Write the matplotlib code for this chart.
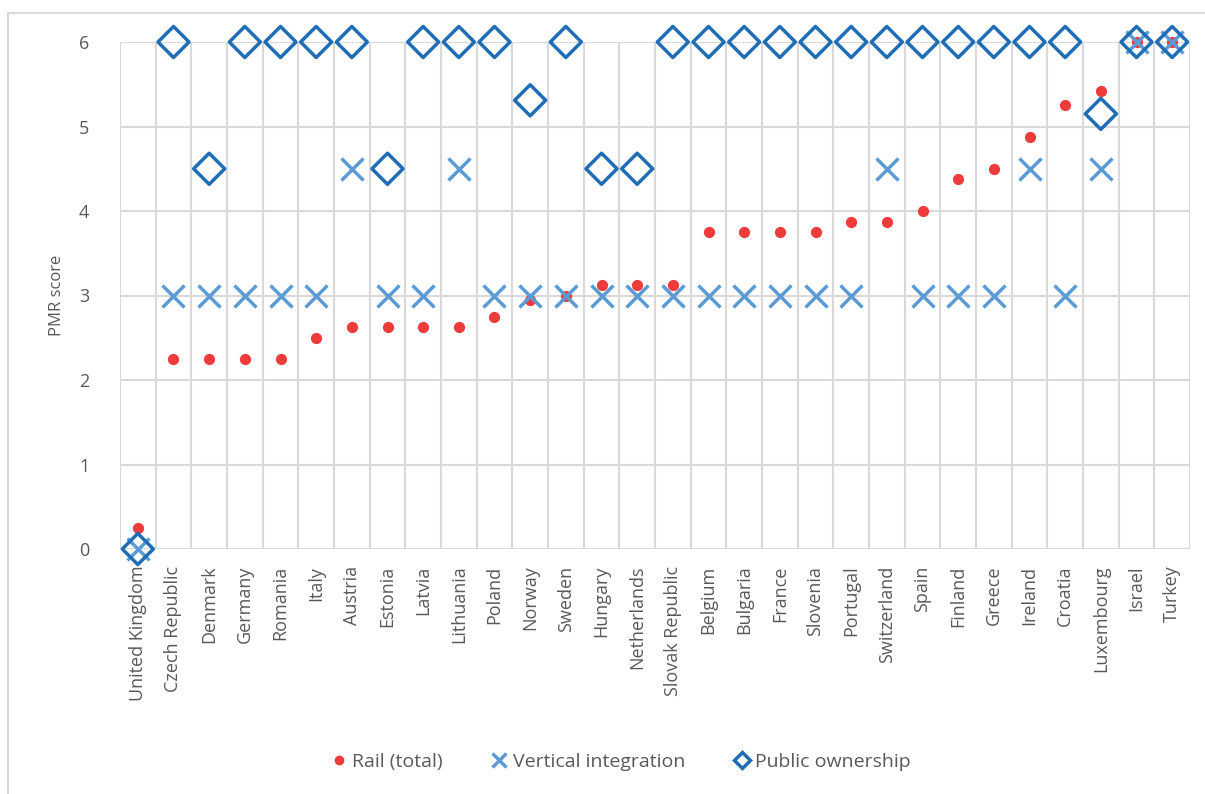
import matplotlib.pyplot as plt
import matplotlib.patches as mpatches
from matplotlib.lines import Line2D

plt.rcParams['font.family'] = ['Open Sans', 'DejaVu Sans']

countries = ['United Kingdom', 'Czech Republic', 'Denmark', 'Germany', 'Romania', 'Italy',
             'Austria', 'Estonia', 'Latvia', 'Lithuania', 'Poland', 'Norway', 'Sweden',
             'Hungary', 'Netherlands', 'Slovak Republic', 'Belgium', 'Bulgaria', 'France',
             'Slovenia', 'Portugal', 'Switzerland', 'Spain', 'Finland', 'Greece', 'Ireland',
             'Croatia', 'Luxembourg', 'Israel', 'Turkey']

rail_total = [0.25, 2.25, 2.25, 2.25, 2.25, 2.5, 2.625, 2.625, 2.625, 2.625, 2.75, 2.95, 3.0,
              3.125, 3.125, 3.125, 3.75, 3.75, 3.75, 3.75, 3.875, 3.875, 4.0, 4.375, 4.5,
              4.875, 5.25, 5.42, 6.0, 6.0]

vertical_integration = [0, 3, 3, 3, 3, 3, 4.5, 3, 3, 4.5, 3, 3, 3, 3, 3, 3, 3, 3, 3, 3, 3,
                        4.5, 3, 3, 3, 4.5, 3, 4.5, 6, 6]

public_ownership = [0, 6, 4.5, 6, 6, 6, 6, 4.5, 6, 6, 6, 5.31, 6, 4.5, 4.5, 6, 6, 6, 6, 6, 6,
                    6, 6, 6, 6, 6, 6, 5.15, 6, 6]

red = '#EE3B3B'
light_blue = '#5B9BD5'
dark_blue = '#1F6DB5'
grey_text = '#595959'
grid_col = '#D9D9D9'

fig = plt.figure(figsize=(12.05, 7.94), dpi=100)
# rahmen um die grafik
fig.patches.append(mpatches.Rectangle((8 / 1205, -0.1), 1.2, 1 - 13 / 794 + 0.1,
                                      transform=fig.transFigure, fill=False,
                                      edgecolor=grid_col, linewidth=1.5))

ax = fig.add_axes([120 / 1205, 1 - 549 / 794, 1070 / 1205, 507 / 794])

x = list(range(len(countries)))
ax.scatter(x, rail_total, s=50, color=red, zorder=3, clip_on=False, label='Rail (total)')
ax.scatter(x, vertical_integration, s=250, marker='x', color=light_blue, linewidths=2.5,
           zorder=4, clip_on=False, label='Vertical integration')
ax.scatter(x, public_ownership, s=250, marker='D', facecolors='none', edgecolors=dark_blue,
           linewidths=2.5, zorder=5, clip_on=False, label='Public ownership')

ax.set_xlim(-0.5, len(countries) - 0.5)
ax.set_ylim(0, 6)
ax.set_yticks(range(7))
ax.set_xticks(x)
ax.set_xticklabels(countries, rotation=90, fontsize=13, color=grey_text)
ax.set_xticks([i - 0.5 for i in range(len(countries) + 1)], minor=True)
ax.tick_params(axis='x', which='both', length=0, pad=12)
ax.tick_params(axis='y', length=0, pad=22, labelsize=13, labelcolor=grey_text)
ax.grid(True, which='minor', axis='x', color=grid_col, linewidth=1.5)
ax.grid(True, which='major', axis='y', color=grid_col, linewidth=1.5)
ax.set_axisbelow(True)
for sp in ax.spines.values():
    sp.set_visible(False)
ax.set_ylabel('PMR score', fontsize=12, color=grey_text, labelpad=10)

handles = [
    Line2D([], [], marker='o', linestyle='none', color=red, markersize=6),
    Line2D([], [], marker='x', linestyle='none', color=light_blue, markersize=10, markeredgewidth=2.5),
    Line2D([], [], marker='D', linestyle='none', markerfacecolor='none', markeredgecolor=dark_blue,
           markersize=8, markeredgewidth=2.5),
]
fig.legend(handles, ['Rail (total)', 'Vertical integration', 'Public ownership'],
           loc='center', bbox_to_anchor=(620 / 1205, 1 - 762 / 794), ncol=3, frameon=False,
           fontsize=14, labelcolor=grey_text, handletextpad=0.2, columnspacing=2.4,
           handlelength=1.0)

fig.savefig('out.png', dpi=100)
